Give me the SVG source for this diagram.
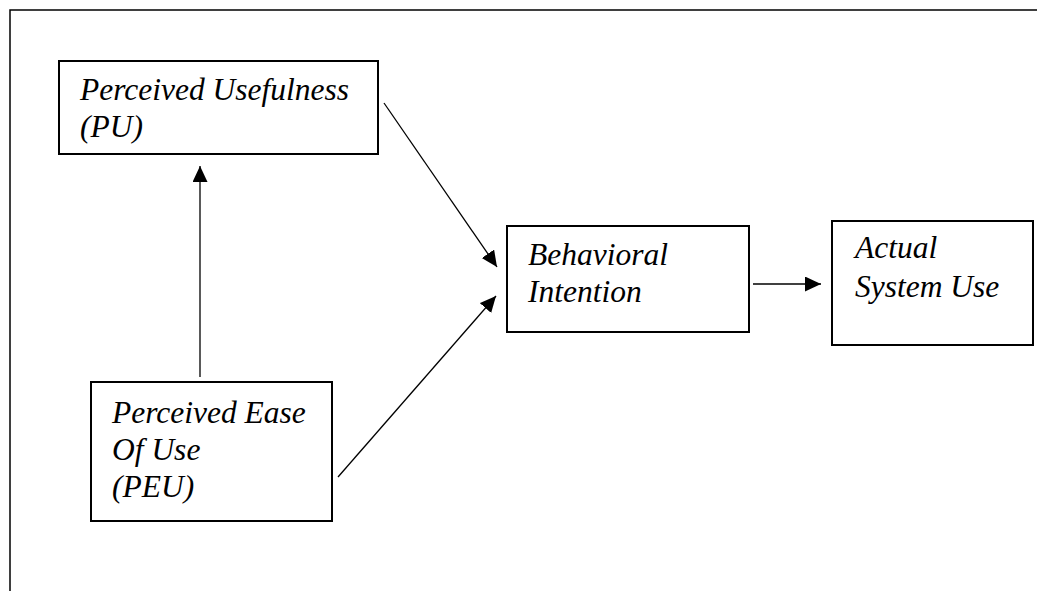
<svg xmlns="http://www.w3.org/2000/svg" width="1037" height="591" viewBox="0 0 1037 591">
<style>
.box{fill:#fff;stroke:#000;stroke-width:2}
.lbl{font-family:"Liberation Serif","Times New Roman",serif;font-style:italic;font-size:31.5px;fill:#000}
.con{stroke:#000;stroke-width:1.3;fill:none}
.frame{stroke:#000;stroke-width:1.5;fill:none}
</style>
<defs>
<marker id="ah" markerUnits="userSpaceOnUse" markerWidth="18" markerHeight="16" refX="16" refY="7.5" orient="auto">
<path d="M0,0 L16,7.5 L0,15 Z" fill="#000"/>
</marker>
</defs>
<rect width="1037" height="591" fill="#fff"/>
<path class="frame" d="M10,591 L10,10 L1037,10"/>
<g id="connectors">
<line class="con" x1="200" y1="377" x2="200" y2="166" marker-end="url(#ah)"/>
<line class="con" x1="384" y1="103" x2="497" y2="267" marker-end="url(#ah)"/>
<line class="con" x1="338" y1="477" x2="496" y2="296" marker-end="url(#ah)"/>
<line class="con" x1="753" y1="284" x2="821" y2="284" stroke-width="2" marker-end="url(#ah)"/>
</g>
<g id="pu">
<rect class="box" x="59" y="61" width="319" height="93"/>
<text class="lbl" x="80" y="100">Perceived Usefulness</text>
<text class="lbl" x="80" y="137">(PU)</text>
</g>
<g id="peu">
<rect class="box" x="91" y="382" width="241" height="139"/>
<text class="lbl" x="112" y="423">Perceived Ease</text>
<text class="lbl" x="112" y="460">Of Use</text>
<text class="lbl" x="112" y="497">(PEU)</text>
</g>
<g id="bi">
<rect class="box" x="507" y="226" width="242" height="106"/>
<text class="lbl" x="528" y="265">Behavioral</text>
<text class="lbl" x="528" y="302">Intention</text>
</g>
<g id="asu">
<rect class="box" x="832" y="221" width="201" height="124"/>
<text class="lbl" x="855" y="258">Actual</text>
<text class="lbl" x="855" y="297">System Use</text>
</g>
</svg>
